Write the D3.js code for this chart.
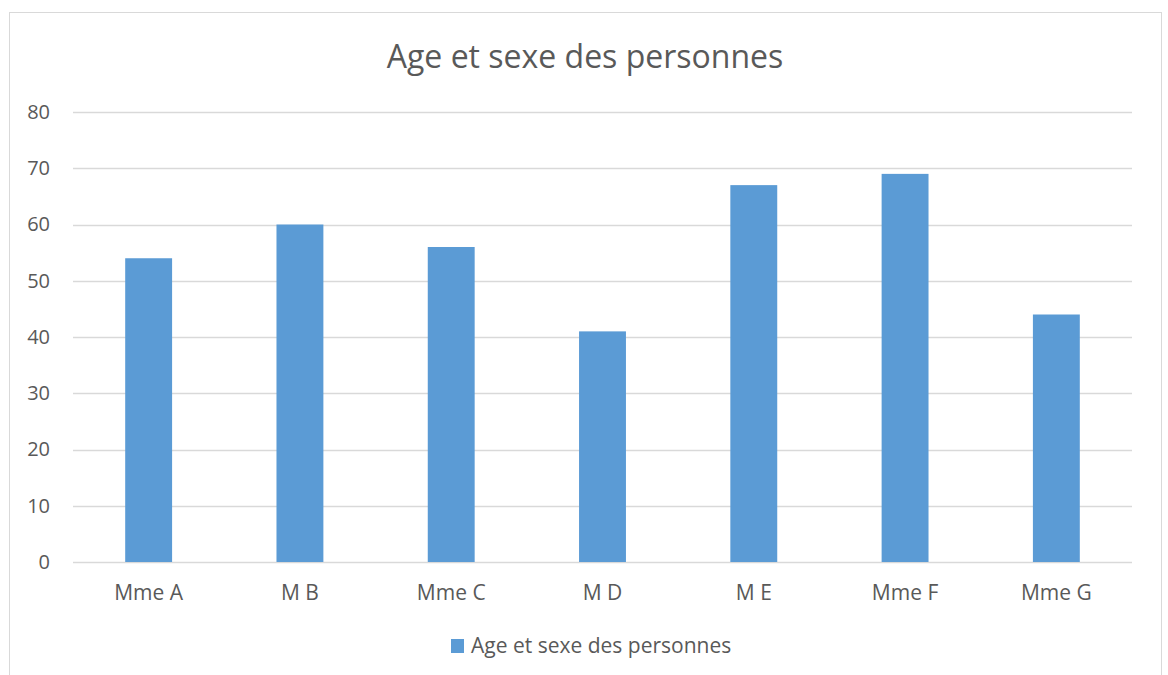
<!DOCTYPE html>
<html>
<head>
<meta charset="utf-8">
<script src="https://cdn.jsdelivr.net/npm/d3@7"></script>
<style>
  body { margin: 0; background: #fff; }
  svg text { font-family: "Open Sans", sans-serif; fill: #595959; }
</style>
</head>
<body>
<svg id="chart" width="1168" height="675"></svg>
<script>
var categories = ["Mme A", "M B", "Mme C", "M D", "M E", "Mme F", "Mme G"];
var ages = [54, 60, 56, 41, 67, 69, 44];
var yTicks = [0, 10, 20, 30, 40, 50, 60, 70, 80];
var title = "Age et sexe des personnes";
var seriesName = "Age et sexe des personnes";

var svg = d3.select("#chart"),
    margin = {top: 112, right: 36, bottom: 113, left: 73},
    width = 1168 - margin.left - margin.right,
    height = 675 - margin.top - margin.bottom;

// chart frame
svg.append("rect")
   .attr("x", 9.5).attr("y", 12.5)
   .attr("width", 1152).attr("height", 680)
   .attr("fill", "#fff")
   .attr("stroke", "#d9d9d9");

svg.append("text")
   .attr("x", 585).attr("y", 57)
   .attr("dy", "0.35em")
   .attr("text-anchor", "middle")
   .style("font-size", "32px")
   .text(title);

var g = svg.append("g")
           .attr("transform", "translate(" + margin.left + "," + margin.top + ")");

var x = d3.scaleBand().domain(categories).range([0, width]).paddingInner(0.69).paddingOuter(0.345);
var y = d3.scaleLinear().domain([0, 80]).range([height, 0]);

// gridlines
g.selectAll(".grid")
 .data(yTicks)
 .enter().append("line")
 .attr("x1", 0).attr("x2", width)
 .attr("y1", function(d) { return Math.round(y(d)) + 0.5; })
 .attr("y2", function(d) { return Math.round(y(d)) + 0.5; })
 .attr("stroke", "#d9d9d9")
 .attr("stroke-width", 1.3);

// y labels
var yAxis = g.append("g")
  .call(d3.axisLeft(y).tickValues(yTicks).tickSize(0).tickPadding(23));
yAxis.select(".domain").remove();
yAxis.selectAll("text").style("font-size", "20px").attr("fill", "#595959");

// bars
g.selectAll(".bar")
 .data(ages)
 .enter().append("rect")
 .attr("class", "bar")
 .attr("x", function(d, i) { return x(categories[i]); })
 .attr("width", x.bandwidth())
 .attr("y", function(d) { return y(d); })
 .attr("height", function(d) { return height - y(d); })
 .attr("fill", "#5b9bd5");

// x labels
var xAxis = g.append("g")
  .attr("transform", "translate(0," + height + ")")
  .call(d3.axisBottom(x).tickSize(0).tickPadding(23));
xAxis.select(".domain").remove();
xAxis.selectAll("text").style("font-size", "21px").attr("fill", "#595959");

// legend
var legend = svg.append("g").attr("transform", "translate(451,639)");
legend.append("rect").attr("width", 13).attr("height", 14).attr("fill", "#5b9bd5");
legend.append("text")
      .attr("x", 20).attr("y", 7)
      .attr("dy", "0.35em")
      .style("font-size", "21px")
      .text(seriesName);
</script>
</body>
</html>
